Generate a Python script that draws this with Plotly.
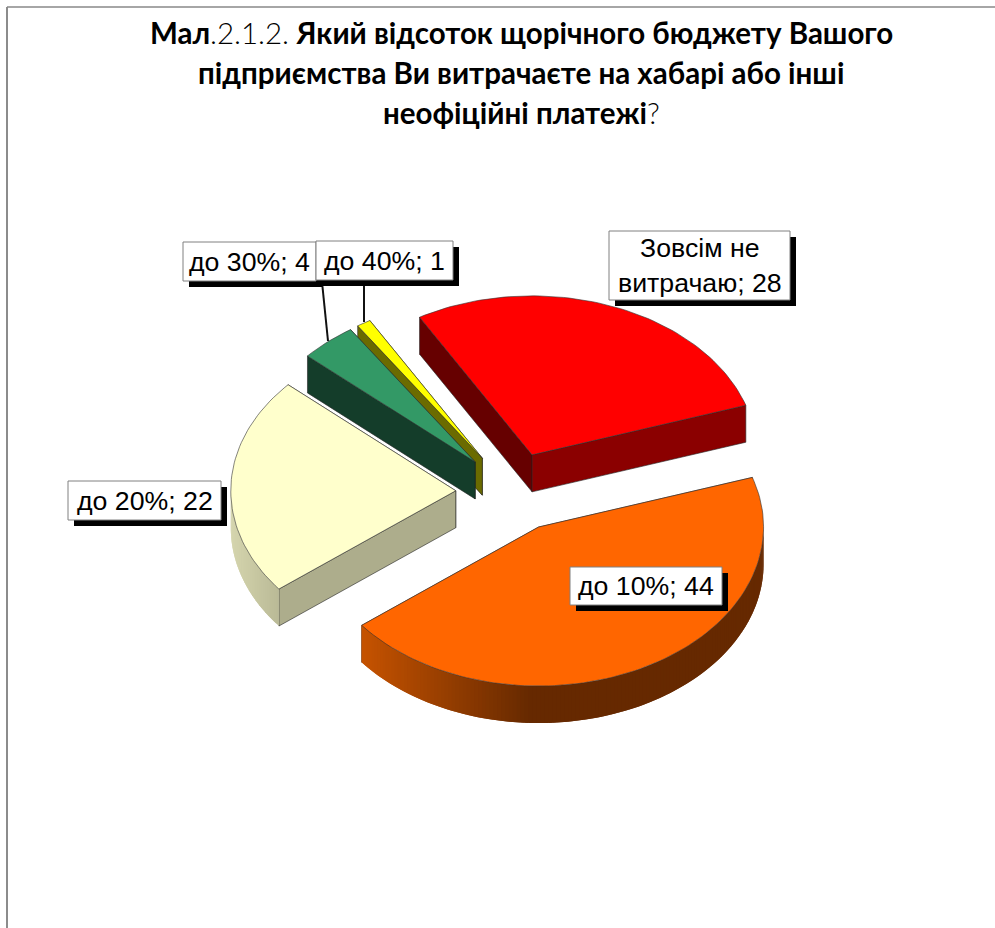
import math
import plotly.graph_objects as go

# ---- data ----
categories = ["Зовсім не<br>витрачаю", "до 10%", "до 20%", "до 30%", "до 40%"]
values = [28, 44, 22, 4, 1]
top_colors = ["#FF0000", "#FF6600", "#FFFFCC", "#339966", "#FFFF00"]
start_cut_colors = ["#660000", "#993D00", "#ADAD8C", "#143D2A", "#6B6B00"]
end_cut_colors = ["#8B0000", "#993D00", "#ADAD8C", "#143D2A", "#6B6B00"]
LIGHT = "<span style=\"font-family:'Lato Light'\">%s</span>"
title_lines = [
    "<b>Мал</b>" + LIGHT % ".2.1.2." + " <b>Який відсоток щорічного бюджету Вашого</b>",
    "<b>підприємства Ви витрачаєте на хабарі або інші</b>",
    "<b>неофіційні платежі</b>" + LIGHT % "?",
]

# ---- pie geometry (3-D perspective ellipse in page pixels) ----
CX, CY = 512, 492
RX, RY = 225, 159
DEPTH = 37
EXPLODE = 0.25
FIRST_ANGLE = -30


def pt(ax, ay, theta, dz=0):
    t = math.radians(theta)
    return ax + RX * math.sin(t), ay - RY * math.cos(t) + dz


def hexmix(c1, c2, f):
    a = [int(c1[i:i + 2], 16) for i in (1, 3, 5)]
    b = [int(c2[i:i + 2], 16) for i in (1, 3, 5)]
    return "#" + "".join(f"{round(x + (y - x) * f):02X}" for x, y in zip(a, b))


def rim_color(i, x):
    if i == 1:  # orange wall: lit on the left, dark towards the middle
        return hexmix("#C45200", "#662900", min(1, max(0, (x - 365) / 165)))
    if i == 2:  # cream wall
        return hexmix("#D6D6AE", "#B9B996", min(1, max(0, (x - 230) / 50)))
    return end_cut_colors[i]


fig = go.Figure()


def poly(xs, ys, fill, line=None, width=0.6):
    fig.add_trace(go.Scatter(
        x=xs, y=ys, mode="lines", fill="toself", fillcolor=fill,
        line=dict(color=line or fill, width=width),
        hoverinfo="skip", showlegend=False))


total = sum(values)
angle = FIRST_ANGLE
wedges = []
for i, v in enumerate(values):
    sweep = 360 * v / total
    mid = angle + sweep / 2
    ax = CX + EXPLODE * RX * math.sin(math.radians(mid))
    ay = CY - EXPLODE * RY * math.cos(math.radians(mid))
    wedges.append((i, angle, angle + sweep, ax, ay))
    angle += sweep

# back-to-front painting
for i, a0, a1, ax, ay in [wedges[k] for k in (4, 3, 0, 2, 1)]:
    # cut faces: the one whose rim end is higher up lies behind, so goes first
    cuts = sorted(((a0, start_cut_colors[i]), (a1, end_cut_colors[i])),
                  key=lambda c: pt(ax, ay, c[0])[1])
    for ang, col in cuts:
        px, py = pt(ax, ay, ang)
        poly([ax, px, px, ax, ax], [ay, py, py + DEPTH, ay + DEPTH, ay], col,
             line="#222222", width=0.6)
    # outer wall: visible only on the lower half of the ellipse
    lo, hi = max(a0, 90), min(a1, 270)
    if hi > lo:
        n = max(2, int(hi - lo))
        step = (hi - lo) / n
        for k in range(n):
            t0 = lo + step * k
            t1 = min(hi, t0 + 2 * step)  # overlap the next slat, so no seams
            x0, y0 = pt(ax, ay, t0)
            x1, y1 = pt(ax, ay, t1)
            col = rim_color(i, pt(ax, ay, t0 + step / 2)[0])
            poly([x0, x1, x1, x0, x0],
                 [y0, y1, y1 + DEPTH, y0 + DEPTH, y0], col, width=0)
    # top face
    n = max(4, int((a1 - a0) / 1.5))
    arc = [pt(ax, ay, a0 + (a1 - a0) * k / n) for k in range(n + 1)]
    poly([ax] + [p[0] for p in arc] + [ax], [ay] + [p[1] for p in arc] + [ay],
         top_colors[i], line="#333333", width=0.6)

# ---- labels ----
label_boxes = [  # x0, y0, x1, y1 for each category
    (609, 231, 790, 300),
    (570, 567, 722, 605),
    (68, 481, 221, 520),
    (183, 242, 316, 281),
    (316, 241, 453, 280),
]
SHADOW = 6
shapes = [
    dict(type="line", x0=7, x1=7, y0=7, y1=928, line=dict(color="#666666", width=1.5), layer="below"),
    dict(type="line", x0=7, x1=995, y0=7, y1=7, line=dict(color="#888888", width=1.5), layer="below"),
    dict(type="line", x0=322, y0=282, x1=328, y1=341, line=dict(color="#111111", width=2), layer="above"),
    dict(type="line", x0=364, y0=282, x1=364, y1=322, line=dict(color="#111111", width=2), layer="above"),
]
annotations = []
for k in (0, 1, 2, 3, 4):
    x0, y0, x1, y1 = label_boxes[k]
    shapes.append(dict(type="rect", x0=x0 + SHADOW, y0=y0 + SHADOW, x1=x1 + SHADOW, y1=y1 + SHADOW,
                       fillcolor="#000000", line=dict(width=0), layer="above"))
    shapes.append(dict(type="rect", x0=x0, y0=y0, x1=x1, y1=y1,
                       fillcolor="#FFFFFF", line=dict(color="#808080", width=1), layer="above"))
    annotations.append(dict(
        x=(x0 + x1) / 2, y=(y0 + y1) / 2, xref="x", yref="y",
        text=f"{categories[k]}; {values[k]}", showarrow=False,
        font=dict(family="Liberation Sans", size=26.7, color="#000000"),
        xanchor="center", yanchor="middle", align="center"))

for text, y in zip(title_lines, (32, 72, 112)):
    annotations.append(dict(
        x=521, y=y, xref="x", yref="y", text=text, showarrow=False,
        font=dict(family="Lato", size=29.5, color="#000000"),
        xanchor="center", yanchor="middle", align="center"))

fig.update_layout(
    width=995, height=928, margin=dict(l=0, r=0, t=0, b=0),
    paper_bgcolor="#FFFFFF", plot_bgcolor="#FFFFFF", showlegend=False,
    xaxis=dict(range=[0, 995], visible=False, fixedrange=True),
    yaxis=dict(range=[928, 0], visible=False, fixedrange=True),
    shapes=shapes, annotations=annotations,
)
fig.write_html("out.html", config={"displayModeBar": False},
               post_script="document.body.style.margin='0';")
